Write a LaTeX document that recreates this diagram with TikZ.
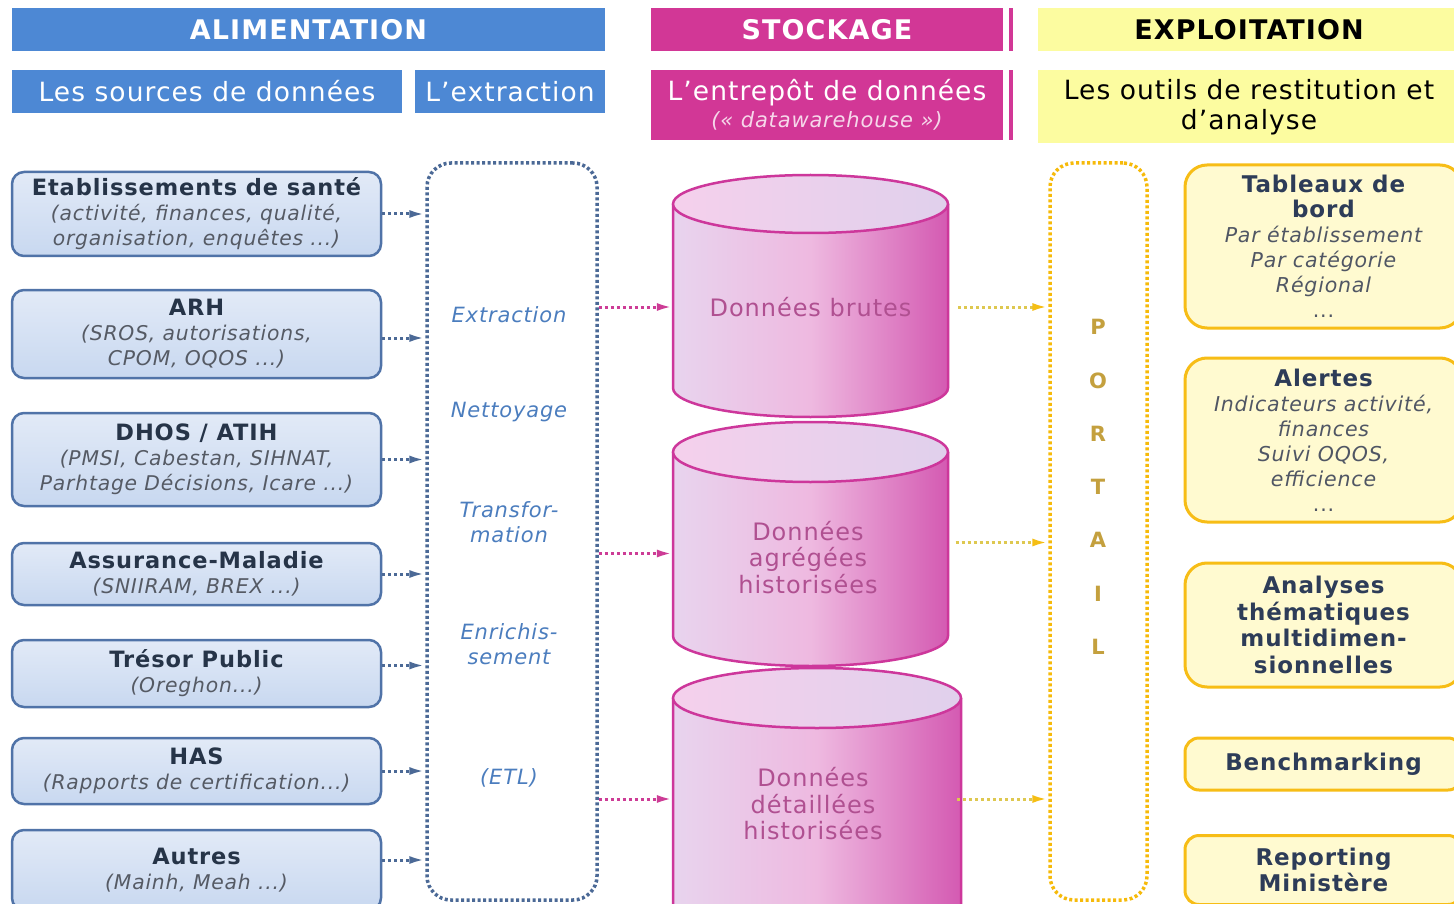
\documentclass[tikz,border=0pt]{standalone}
\usepackage{fontspec}
\setmainfont{DejaVu Sans}[LetterSpace=4]
\usetikzlibrary{arrows.meta}
\definecolor{blueHead}{RGB}{77,136,212}
\definecolor{magHead}{RGB}{210,55,150}
\definecolor{yelHead}{RGB}{252,252,160}
\definecolor{srcT}{RGB}{226,234,247}
\definecolor{srcB}{RGB}{200,216,240}
\definecolor{srcD}{RGB}{80,115,168}
\definecolor{srcText}{RGB}{38,52,72}
\definecolor{srcIt}{RGB}{85,90,100}
\definecolor{etlD}{RGB}{75,105,150}
\definecolor{etlText}{RGB}{75,125,190}
\definecolor{cylL}{RGB}{232,212,238}
\definecolor{cylM}{RGB}{238,185,224}
\definecolor{cylR}{RGB}{212,90,178}
\definecolor{topL}{RGB}{245,208,236}
\definecolor{topR}{RGB}{224,208,236}
\definecolor{cylD}{RGB}{205,55,155}
\definecolor{cylText}{RGB}{176,80,145}
\definecolor{pinkArr}{RGB}{205,60,150}
\definecolor{yelLine}{RGB}{222,200,80}
\definecolor{yelArr}{RGB}{245,190,20}
\definecolor{portD}{RGB}{246,186,10}
\definecolor{portText}{RGB}{196,160,62}
\definecolor{outFill}{RGB}{255,250,208}
\definecolor{outD}{RGB}{247,189,22}
\definecolor{outText}{RGB}{45,60,88}
\definecolor{outIt}{RGB}{80,86,100}
\newcommand{\drawcyl}[5]{%
  \shade[left color=cylL, right color=cylR, middle color=cylM]
    (#1-#2,#3) -- (#1-#2,#4) arc[start angle=180,end angle=0,x radius=#2,y radius=#5] -- (#1+#2,#3) -- cycle;
  \draw[draw=cylD, line width=2.5pt]
    (#1-#2,#3) -- (#1-#2,#4) arc[start angle=180,end angle=0,x radius=#2,y radius=#5] -- (#1+#2,#3);
  \shade[draw=cylD, line width=2.5pt, left color=topL, right color=topR]
    (#1,#3) ellipse[x radius=#2, y radius=#5];
}
\begin{document}
\begin{tikzpicture}[x=1pt,y=-1pt,
  head/.style={minimum height=43pt, inner sep=0pt, font=\fontsize{27}{28}\selectfont\bfseries},
  sub/.style={minimum height=43pt, inner sep=0pt, align=center, font=\fontsize{26.5}{30}\selectfont},
  src/.style={draw=srcD, line width=2.5pt, rounded corners=12pt, top color=srcT, bottom color=srcB,
    minimum width=369pt, inner sep=0pt, align=center, text=srcText, font=\fontsize{20.3}{25}\selectfont},
  stit/.style={},
  outbox/.style={draw=outD, line width=3pt, rounded corners=22pt, fill=outFill,
    minimum width=277pt, inner sep=0pt, align=center, text=outText, font=\fontsize{20.5}{25}\selectfont},
  etllab/.style={text=etlText, align=center, font=\fontsize{21}{25}\selectfont\itshape},
  cyllab/.style={text=cylText, align=center, inner sep=0pt, font=\fontsize{24}{26.5}\selectfont},
  bluearr/.style={draw=etlD, line width=3pt, dash pattern=on 3pt off 3pt, -{Latex[length=16pt,width=8pt]}},
  pinkarr/.style={draw=pinkArr, line width=3pt, dash pattern=on 3pt off 3pt, -{Latex[length=16pt,width=8pt]}},
  yelarr/.style={draw=yelLine, line width=3pt, dash pattern=on 3pt off 3pt, -{Latex[length=16pt,width=8pt,color=yelArr]}},
  container/.style={line width=3.5pt, dash pattern=on 3pt off 2.5pt, rounded corners=24pt}
]
\useasboundingbox (0,0) rectangle (1454,904);
\fill[white] (0,0) rectangle (1454,904);
\clip (0,0) rectangle (1454,904);

% headers
\node[head, fill=blueHead, text=white, minimum width=593pt] (hal) at (308.5,29.5) {ALIMENTATION};
\node[head, fill=magHead, text=white, minimum width=352pt] (hst) at (827,29.5) {STOCKAGE};
\node[head, fill=yelHead, text=black, minimum width=422pt] (hex) at (1249,29.5) {EXPLOITATION};
\fill[magHead] (1009,8) rectangle (1013,51);
\fill[magHead] (1009,70) rectangle (1013,140);

\node[sub, fill=blueHead, text=white, minimum width=390pt] (hsrc) at (207,91.5) {Les sources de données};
\node[sub, fill=blueHead, text=white, minimum width=190pt] (hext) at (510,91.5) {L’extraction};
\node[sub, fill=magHead, text=white, minimum width=352pt, minimum height=70pt] (hent) at (827,105)
  {L’entrepôt de données\\[-3pt]{\fontsize{21}{24}\selectfont\itshape\color{white!80!magHead}(« datawarehouse »)}};
\node[sub, fill=yelHead, text=black, minimum width=422pt, minimum height=73pt] (hout) at (1249,107)
  {Les outils de restitution et\\d’analyse};

% sources
\node[src, minimum height=84pt] (s1) at (196.5,214)
  {{\fontsize{22.5}{25}\selectfont\bfseries Etablissements de santé}\\{\itshape\color{srcIt}(activité, finances, qualité,}\\{\itshape\color{srcIt}organisation, enquêtes ...)}};
\node[src, minimum height=88pt] (s2) at (196.5,334)
  {{\fontsize{22.5}{25}\selectfont\bfseries ARH}\\{\itshape\color{srcIt}(SROS, autorisations,}\\{\itshape\color{srcIt}CPOM, OQOS ...)}};
\node[src, minimum height=93pt] (s3) at (196.5,459.5)
  {{\fontsize{22.5}{25}\selectfont\bfseries DHOS / ATIH}\\{\itshape\color{srcIt}(PMSI, Cabestan, SIHNAT,}\\{\itshape\color{srcIt}Parhtage Décisions, Icare ...)}};
\node[src, minimum height=62pt] (s4) at (196.5,574)
  {{\fontsize{22.5}{25}\selectfont\bfseries Assurance-Maladie}\\{\itshape\color{srcIt}(SNIIRAM, BREX ...)}};
\node[src, minimum height=67pt] (s5) at (196.5,673.5)
  {{\fontsize{22.5}{25}\selectfont\bfseries Trésor Public}\\{\itshape\color{srcIt}(Oreghon...)}};
\node[src, minimum height=66pt] (s6) at (196.5,771)
  {{\fontsize{22.5}{25}\selectfont\bfseries HAS}\\{\itshape\color{srcIt}(Rapports de certification...)}};
\node[src, minimum height=80pt] (s7) at (196.5,870)
  {{\fontsize{22.5}{25}\selectfont\bfseries Autres}\\{\itshape\color{srcIt}(Mainh, Meah ...)}};

% ETL container
\node[draw=etlD, container, minimum width=170pt, minimum height=737pt, inner sep=0pt] (etl) at (512,531.5) {};
\node[etllab] (l1) at (509,315) {Extraction};
\node[etllab] (l2) at (509,412) {Nettoyage};
\node[etllab] (l3) at (509,522) {Transfor-\\mation};
\node[etllab] (l4) at (509,644) {Enrichis-\\sement};
\node[etllab] (l5) at (509,778) {(ETL)};

\draw[bluearr] (s1.east) -- (s1.east -| etl.west);
\draw[bluearr] ([yshift=-4pt]s2.east) -- ([yshift=-4pt]s2.east -| etl.west);
\draw[bluearr] (s3.east) -- (s3.east -| etl.west);
\draw[bluearr] (s4.east) -- (s4.east -| etl.west);
\draw[bluearr] ([yshift=8pt]s5.east) -- ([yshift=8pt]s5.east -| etl.west);
\draw[bluearr] (s6.east) -- (s6.east -| etl.west);
\draw[bluearr] ([yshift=10pt]s7.east) -- ([yshift=10pt]s7.east -| etl.west);

% cylinders
\drawcyl{810.5}{137.5}{204}{388}{29}
\drawcyl{810.5}{137.5}{452}{636}{30}
\drawcyl{817}{144}{698}{940}{30}
\node[cyllab, minimum width=275pt] (c1) at (810.5,307) {Données brutes};
\node[cyllab, minimum width=275pt] (c2) at (808,557.5) {Données\\agrégées\\historisées};
\node[cyllab, minimum width=288pt] (c3) at (813,804) {Données\\détaillées\\historisées};

% portal
\node[draw=portD, container, minimum width=97pt, minimum height=737pt, inner sep=0pt] (portal) at (1098.5,531.5) {};
\node[text=portText, align=center, inner sep=0pt, font=\fontsize{21}{53.3}\selectfont\bfseries] (ptxt) at (1098,487)
  {P\\O\\R\\T\\A\\I\\L};

\draw[pinkarr] (etl.east |- c1.west) -- (c1.west);
\draw[pinkarr] ([yshift=4pt]etl.east |- c2.west) -- ([yshift=4pt,xshift=2.5pt]c2.west);
\draw[pinkarr] ([yshift=5pt]etl.east |- c3.west) -- ([yshift=5pt,xshift=4pt]c3.west);

\draw[yelarr] ([xshift=10pt]c1.east) -- (c1.east -| portal.west);
\draw[yelarr] ([xshift=10pt,yshift=15pt]c2.east) -- ([yshift=15pt]c2.east -| portal.west);
\draw[yelarr] ([xshift=0pt,yshift=5pt]c3.east) -- ([yshift=5pt]c3.east -| portal.west);

% outputs
\node[outbox, minimum height=163pt] (r1) at (1323.5,246.5)
  {{\fontsize{23}{27}\selectfont\bfseries Tableaux de}\\{\fontsize{23}{25}\selectfont\bfseries bord}\\
   {\itshape\color{outIt}Par établissement}\\{\itshape\color{outIt}Par catégorie}\\{\itshape\color{outIt}Régional}\\{\color{outIt}...}};
\node[outbox, minimum height=164pt] (r2) at (1323.5,440)
  {{\fontsize{23}{25}\selectfont\bfseries Alertes}\\{\itshape\color{outIt}Indicateurs activité,}\\{\itshape\color{outIt}finances}\\
   {\itshape\color{outIt}Suivi OQOS,}\\{\itshape\color{outIt}efficience}\\{\color{outIt}...}};
\node[outbox, minimum height=124pt, font=\fontsize{23}{26.5}\selectfont\bfseries] (r3) at (1323.5,625)
  {Analyses\\thématiques\\multidimen-\\sionnelles};
\node[outbox, rounded corners=14pt, minimum height=52pt, font=\fontsize{23}{26.5}\selectfont\bfseries] (r4) at (1323.5,764)
  {Benchmarking};
\node[outbox, rounded corners=14pt, minimum height=69pt, font=\fontsize{23}{26.5}\selectfont\bfseries] (r5) at (1323.5,870)
  {Reporting\\Ministère};
\end{tikzpicture}
\end{document}
